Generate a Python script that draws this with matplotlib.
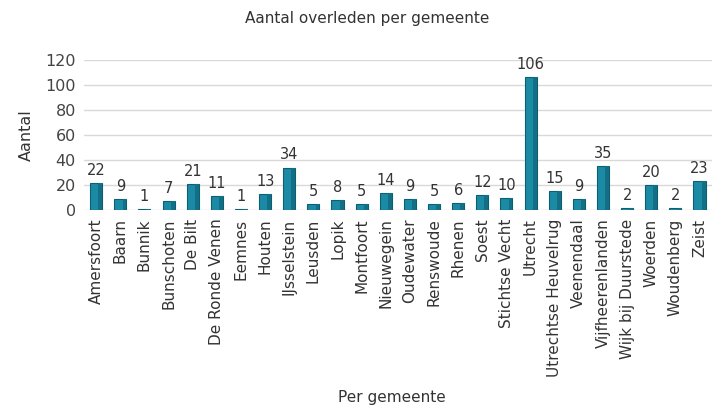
import matplotlib.pyplot as plt
import numpy as np

plt.rcParams['font.family'] = ['DejaVu Sans']

gemeenten = ["Amersfoort", "Baarn", "Bunnik", "Bunschoten", "De Bilt", "De Ronde Venen",
             "Eemnes", "Houten", "IJsselstein", "Leusden", "Lopik", "Montfoort",
             "Nieuwegein", "Oudewater", "Renswoude", "Rhenen", "Soest", "Stichtse Vecht",
             "Utrecht", "Utrechtse Heuvelrug", "Veenendaal", "Vijfheerenlanden",
             "Wijk bij Duurstede", "Woerden", "Woudenberg", "Zeist"]
aantal = [22, 9, 1, 7, 21, 11, 1, 13, 34, 5, 8, 5, 14, 9, 5, 6, 12, 10, 106, 15, 9, 35, 2, 20, 2, 23]
yticks = [0, 20, 40, 60, 80, 100, 120]

fig = plt.figure(figsize=(7.13, 4.12), dpi=100)
ax = fig.add_axes([0.118, 0.49, 0.88, 0.365])

x = np.arange(len(gemeenten))
ax.bar(x, aantal, width=0.5, color='#1b8ba5', edgecolor='#0e5e72', linewidth=0.8, zorder=3)
ax.bar(x + 0.17, aantal, width=0.16, color='#136f86', zorder=4)

for xi, v in zip(x, aantal):
    ax.text(xi, v + 4, str(v), ha='center', va='bottom', fontsize=10.5, color='#333333', clip_on=False)

ax.set_ylim(0, 120)
ax.set_xlim(-0.5, len(gemeenten) - 0.5)
ax.set_yticks(yticks)
ax.set_yticklabels([str(t) for t in yticks], fontsize=11.5, color='#444444')
ax.yaxis.grid(True, color='#d9d9d9', linewidth=1, zorder=0)
ax.set_xticks(x)
ax.set_xticklabels(gemeenten, rotation=90, fontsize=11, color='#333333')
ax.tick_params(length=0, pad=6)
for s in ax.spines.values():
    s.set_visible(False)

ax.set_ylabel('Aantal', fontsize=11.5, color='#333333', labelpad=8)
fig.text(0.55, 0.025, 'Per gemeente', ha='center', fontsize=11, color='#333333')
fig.text(0.515, 0.945, 'Aantal overleden per gemeente', ha='center', fontsize=11, color='#333333')

fig.savefig('out.png', dpi=100)
